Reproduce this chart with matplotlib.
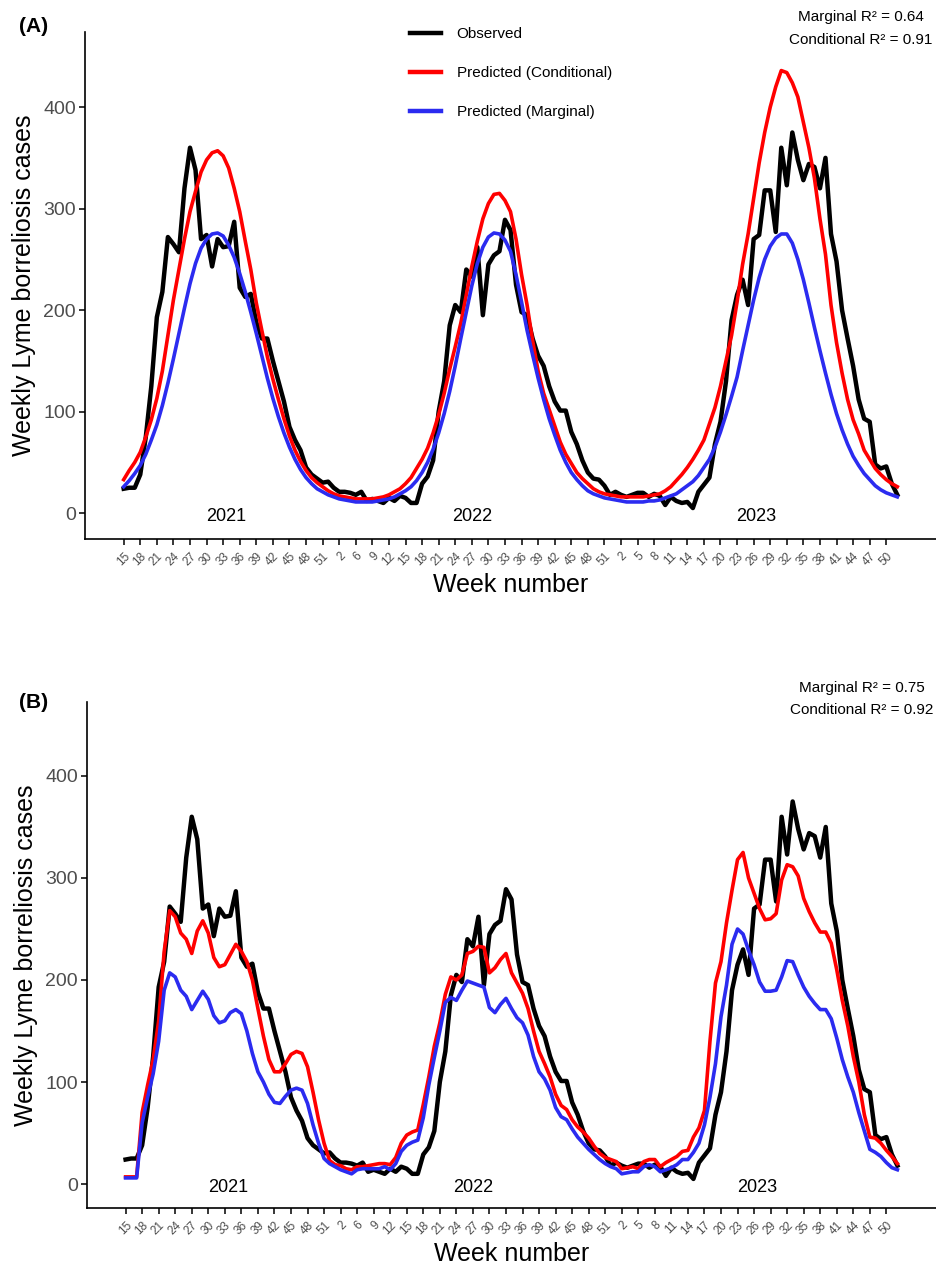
import numpy as np
import matplotlib
matplotlib.use('Agg')
import matplotlib.pyplot as plt
from matplotlib.lines import Line2D

plt.rcParams['font.family'] = ['Liberation Sans', 'DejaVu Sans']

# Semanas (2022 sem a semana 3 nos dados)
weeks_2021 = list(range(15, 53))
weeks_2022 = [1, 2] + list(range(4, 53))
weeks_2023 = list(range(1, 53))
week_labels = weeks_2021 + weeks_2022 + weeks_2023
year_names = ['2021', '2022', '2023']
year_pos = [18.6, 63.0, 114.5]

observed = [
    24, 25, 25, 38, 75, 125, 193, 218, 272, 265, 257, 320, 360, 338, 270, 274, 243, 270, 262, 263,
    287, 222, 213, 216, 188, 172, 172, 150, 130, 110, 85, 72, 62, 45, 38, 34, 30, 31,
    25, 21, 21, 20, 18, 21, 12, 14, 12, 10, 15, 12, 17, 15, 10, 10, 29, 36, 52, 100, 130, 185,
    205, 198, 240, 233, 262, 195, 245, 254, 258, 289, 279, 225, 198, 195, 172, 155, 145, 125, 110, 101,
    101, 80, 68, 52, 40, 34, 33, 27, 18,
    21, 18, 16, 18, 20, 20, 16, 19, 17, 8, 16, 12, 10, 11, 5, 21, 28, 35, 68, 90,
    130, 190, 215, 230, 205, 270, 274, 318, 318, 277, 360, 323, 375, 348, 328, 344, 341, 320, 350, 275,
    248, 200, 172, 145, 112, 93, 90, 48, 44, 46, 29, 18,
]

cond_a = [
    33, 42, 50, 60, 75, 92, 113, 140, 175, 210, 240, 270, 297, 317, 336, 348, 355, 357, 352, 340,
    320, 297, 268, 240, 207, 180, 154, 132, 112, 93, 76, 62, 51, 42, 35, 30, 26, 22,
    19, 17, 16, 15, 14, 14, 14, 14, 15, 16, 18, 21, 24, 29, 35, 44, 53, 64, 79, 97, 118, 142,
    164, 187, 215, 243, 268, 290, 305, 314, 315, 308, 297, 270, 235, 205, 170, 140, 118, 102, 86, 70,
    58, 49, 40, 34, 29, 24, 21, 19, 18,
    17, 16, 16, 16, 16, 16, 17, 18, 19, 22, 26, 32, 38, 45, 53, 62, 72, 88, 104, 125,
    150, 175, 208, 245, 275, 310, 345, 375, 400, 420, 436, 434, 424, 410, 385, 360, 330, 290, 255, 205,
    168, 138, 112, 92, 78, 62, 53, 44, 38, 33, 29, 26,
]

marg_a = [
    26, 32, 39, 47, 58, 72, 87, 106, 128, 152, 177, 202, 226, 246, 261, 270, 275, 276, 273, 264,
    252, 236, 218, 198, 177, 155, 133, 113, 95, 79, 65, 53, 43, 35, 29, 24, 21, 18,
    16, 14, 13, 12, 11, 11, 11, 11, 12, 13, 14, 16, 19, 22, 26, 32, 40, 50, 63, 79, 98, 120,
    145, 172, 198, 224, 246, 262, 272, 276, 275, 269, 258, 235, 208, 180, 156, 133, 112, 93, 77, 62,
    50, 40, 33, 27, 22, 19, 17, 15, 14,
    13, 12, 11, 11, 11, 11, 12, 12, 13, 15, 17, 19, 23, 27, 31, 37, 45, 53, 65, 80,
    97, 115, 134, 160, 185, 210, 232, 250, 263, 271, 275, 275, 266, 250, 230, 207, 183, 160, 138, 117,
    98, 82, 68, 56, 47, 39, 33, 27, 23, 20, 18, 16,
]

cond_b = [
    7, 7, 7, 70, 97, 122, 160, 228, 268, 262, 246, 240, 226, 248, 258, 246, 222, 213, 215, 225,
    235, 228, 218, 200, 172, 145, 122, 110, 110, 118, 127, 130, 128, 115, 90, 63, 40, 23,
    19, 18, 15, 14, 17, 17, 18, 19, 20, 20, 19, 26, 40, 48, 51, 53, 78, 105, 135, 158,
    186, 203, 200, 205, 226, 228, 233, 232, 207, 212, 220, 226, 207, 197, 187, 172, 150, 130, 118, 105,
    88, 77, 73, 63, 56, 51, 45, 37, 30, 26, 24,
    22, 15, 16, 17, 15, 22, 24, 24, 17, 21, 24, 27, 32, 33, 46, 55, 72, 140, 197, 218,
    256, 288, 318, 325, 300, 285, 270, 259, 260, 265, 298, 313, 311, 302, 280, 267, 256, 247, 247, 236,
    210, 180, 155, 125, 100, 68, 46, 45, 40, 33, 27, 20,
]

marg_b = [
    6, 6, 6, 60, 85, 108, 140, 190, 207, 203, 190, 184, 171, 180, 189, 181, 165, 158, 160, 168,
    171, 167, 150, 128, 110, 100, 88, 80, 79, 86, 92, 94, 92, 79, 58, 40, 25, 20,
    17, 14, 12, 10, 14, 15, 15, 15, 15, 17, 14, 20, 32, 38, 41, 43, 65, 97, 124, 150,
    178, 183, 180, 190, 199, 197, 195, 193, 173, 168, 176, 182, 172, 163, 158, 146, 125, 110, 103, 92,
    75, 66, 63, 54, 46, 40, 34, 29, 24, 20, 17,
    15, 10, 11, 12, 12, 17, 19, 17, 12, 14, 16, 19, 24, 24, 31, 40, 58, 85, 118, 164,
    195, 235, 250, 245, 229, 215, 198, 189, 189, 190, 203, 219, 218, 205, 193, 184, 177, 171, 171, 162,
    143, 122, 105, 90, 70, 52, 34, 31, 27, 21, 16, 14,
]

r2_a = ('Marginal R\u00b2 = 0.64', 'Conditional R\u00b2 = 0.91')
r2_b = ('Marginal R\u00b2 = 0.75', 'Conditional R\u00b2 = 0.92')

BLACK = '#000000'
RED = '#FF0000'
BLUE = '#2B2BF0'
GREY = '#4D4D4D'

W, H = 936, 1265
fig = plt.figure(figsize=(W / 100, H / 100), dpi=100)


def draw_panel(rect, cond, marg, ylim):
    ax = fig.add_axes(rect)
    x = np.arange(len(observed))
    ax.plot(x, observed, color=BLACK, lw=3.2, solid_joinstyle='round', label='Observed')
    ax.plot(x, cond, color=RED, lw=2.6, solid_joinstyle='round', label='Predicted (Conditional)')
    ax.plot(x, marg, color=BLUE, lw=2.6, solid_joinstyle='round', label='Predicted (Marginal)')

    for name, xp in zip(year_names, year_pos):
        ax.text(xp, -3, name, ha='center', va='center', fontsize=13, color='black')

    ax.set_xlim(-7, 147)
    ax.set_ylim(*ylim)
    ax.set_yticks([0, 100, 200, 300, 400])
    ax.set_xticks(x[::3])
    ax.set_xticklabels([str(w) for w in week_labels[::3]], rotation=45, ha='right', va='top',
                       rotation_mode='anchor', fontsize=8.5, color=GREY)
    ax.tick_params(axis='y', labelsize=14, labelcolor=GREY, length=4.5, width=1.1, pad=2)
    ax.tick_params(axis='x', length=4, width=1.1, pad=4)

    for side in ['top', 'right']:
        ax.spines[side].set_visible(False)
    for side in ['left', 'bottom']:
        ax.spines[side].set_linewidth(1.2)

    ax.set_xlabel('Week number', fontsize=18)
    ax.xaxis.set_label_coords(0.5, -0.091)
    ax.xaxis.label.set_va('center')
    ax.set_ylabel('Weekly Lyme borreliosis cases', fontsize=18)
    ax.yaxis.set_label_coords(-0.072, 0.5)
    ax.yaxis.label.set_va('center')
    return ax


ax_a = draw_panel([85 / W, 1 - 539 / H, 851 / W, 507 / H], cond_a, marg_a, (-25.5, 474))
ax_b = draw_panel([87 / W, 1 - 1208 / H, 849 / W, 506 / H], cond_b, marg_b, (-23.5, 472.5))

handles = [Line2D([], [], color=BLACK, lw=3.2),
           Line2D([], [], color=RED, lw=3.2),
           Line2D([], [], color=BLUE, lw=3.2)]
labels = ['Observed', 'Predicted (Conditional)', 'Predicted (Marginal)']
ax_a.legend(handles, labels, loc='upper left', bbox_to_anchor=(0.382, 1.010), frameon=False,
            fontsize=11, handlelength=2.05, handletextpad=1.0, labelspacing=1.65,
            borderpad=0, borderaxespad=0)

# textos de R2 e rótulos dos painéis
fig.text(861 / W, 1 - 17 / H, r2_a[0], ha='center', va='center', fontsize=11)
fig.text(861 / W, 1 - 40 / H, r2_a[1], ha='center', va='center', fontsize=11)
fig.text(862 / W, 1 - 688 / H, r2_b[0], ha='center', va='center', fontsize=11)
fig.text(862 / W, 1 - 710 / H, r2_b[1], ha='center', va='center', fontsize=11)
fig.text(19 / W, 1 - 27 / H, '(A)', ha='left', va='center', fontsize=15, fontweight='bold')
fig.text(19 / W, 1 - 702 / H, '(B)', ha='left', va='center', fontsize=15, fontweight='bold')

fig.savefig('out.png', dpi=100)
